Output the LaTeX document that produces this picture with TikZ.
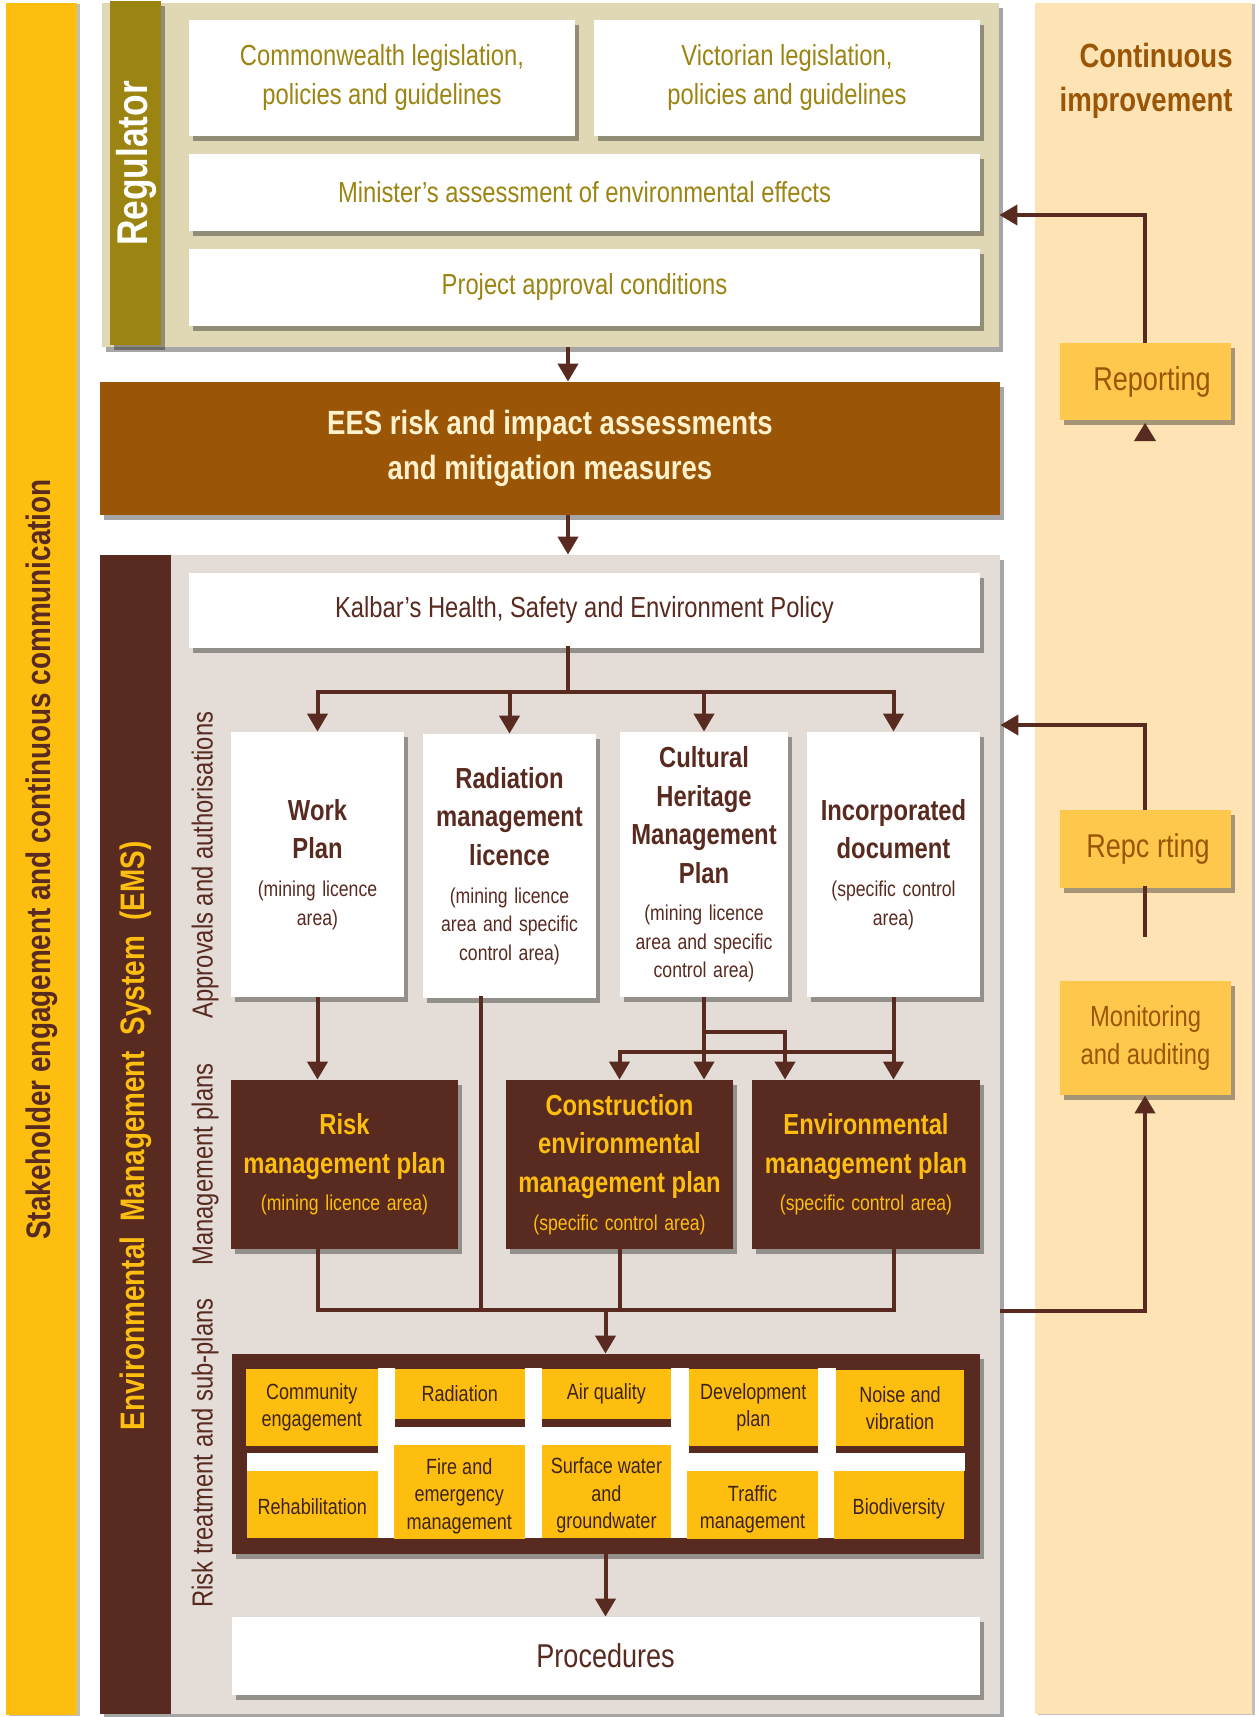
\documentclass[tikz,border=0pt]{standalone}
\usepackage{fontspec}
\setmainfont{Liberation Sans}[FakeStretch=0.82]
\usetikzlibrary{shadows,arrows.meta}
\definecolor{yel}{RGB}{253,190,16}
\definecolor{dbr}{RGB}{88,42,32}
\definecolor{olv}{RGB}{156,132,18}
\definecolor{beige}{RGB}{224,216,181}
\definecolor{eesc}{RGB}{154,86,6}
\definecolor{cream}{RGB}{255,241,204}
\definecolor{emsbg}{RGB}{227,220,215}
\definecolor{peach}{RGB}{254,228,180}
\definecolor{repc}{RGB}{254,200,76}
\definecolor{celltxt}{RGB}{62,36,22}
\newcommand\fsz[2]{\fontsize{#1}{#2}\selectfont}
\newcommand\ttl{\bfseries\fsz{14.5}{19.2}}
\newcommand\sbt{\par\vspace{4.6pt}\normalfont\fsz{10.75}{14.25}}
\newcommand\dn[1]{\raisebox{-2.2pt}[\height][\depth]{\begin{tabular}{@{}c@{}}#1\end{tabular}}}
\tikzset{
  bx/.style n args={4}{at={({(#1+#3)/2},{(#2+#4)/2})}, anchor=center, inner sep=0pt,
     minimum width={(#3-#1)*0.5pt}, minimum height={(#4-#2)*0.5pt}},
  sh/.style={drop shadow={shadow xshift=2pt, shadow yshift=-2.5pt, opacity=0.35, fill=black}},
  lsh/.style={drop shadow={shadow xshift=1.5pt, shadow yshift=-0.5pt, opacity=0.25, fill=black}},
  wbox/.style={fill=white, sh, align=center},
  olvtext/.style={font=\fsz{14.5}{19.5}, text=olv},
  dbox/.style={fill=dbr, sh, align=center, text=yel, text width=108pt},
  apbox/.style={wbox, text=dbr, text width=80pt},
  cell/.style={fill=yel, align=center, font=\fsz{11}{13.7}, text=celltxt},
  rbox/.style={fill=repc, sh, align=center, text=eesc},
  vlab/.style={rotate=90, inner sep=0pt},
  line/.style={draw=dbr, line width=2pt, line cap=rect},
  arr/.style={draw=dbr, line width=2pt, -{Triangle[width=10pt,length=9pt]}},
}
\begin{document}
\begin{tikzpicture}[x=0.5pt,y=-0.5pt]
\useasboundingbox (0,0) rectangle (1258,1717);
\fill[white] (0,0) rectangle (1258,1717);

% side panels
\node[bx={6}{3}{77}{1715}, fill=yel, lsh] (stake) {};
\node[vlab, font=\bfseries\fsz{17}{20}, text=dbr] (stakelab) at (42,859.5) {Stakeholder engagement and continuous communication};
\node[bx={1035}{3}{1252}{1714}, fill=peach, lsh] (ci) {};
\node[anchor=east, align=right, inner sep=0pt, font=\bfseries\fsz{16.8}{22}, text=eesc] (cilab) at (1233,81) {Continuous\\improvement};

% regulator
\node[bx={102}{3}{999}{347}, fill=beige, sh] (reg) {};
\node[bx={110}{1}{161}{345}, fill=olv, sh] (regbar) {};
\node[vlab, font=\bfseries\fsz{21.5}{24}, text=white] (reglab) at (136,163.5) {Regulator};
\node[wbox, olvtext, bx={189}{20}{575}{136}] (cw) {Commonwealth legislation,\\policies and guidelines};
\node[wbox, olvtext, bx={594}{20}{980}{136}] (vic) {Victorian legislation,\\policies and guidelines};
\node[wbox, olvtext, bx={189}{154}{980}{231}] (min) {Minister's assessment of environmental effects};
\node[wbox, olvtext, bx={189}{249}{980}{326}] (proj) {Project approval conditions};

% EES
\node[bx={100}{382}{1000}{514.6}, fill=eesc, sh, align=center, font=\bfseries\fsz{16.8}{22.5}, text=cream] (ees) {EES risk and impact assessments\\and mitigation measures};

% EMS
\node[bx={100}{555}{1000}{1714}, fill=emsbg, sh] (ems) {};
\node[bx={100}{555}{171}{1714}, fill=dbr] (emsbar) {};
\node[vlab, font=\bfseries\fsz{17}{20}, text=yel] (emslab) at (136,1136) {Environmental\ \ Management\ \ System\ \ (EMS)};
\node[vlab, font=\fsz{14.5}{17}, text=dbr] (lab1) at (205,865) {Approvals and authorisations};
\node[vlab, font=\fsz{14.5}{17}, text=dbr] (lab2) at (205,1164.5) {Management plans};
\node[vlab, font=\fsz{14.5}{17}, text=dbr] (lab3) at (205,1453) {Risk treatment and sub-plans};

\node[wbox, font=\fsz{14.5}{19}, text=dbr, bx={189}{572.6}{980}{648}] (kal) {Kalbar's Health, Safety and Environment Policy};

\node[apbox, bx={231}{732}{404}{997}] (work) {\ttl Work\\Plan\sbt (mining licence\\area)\par};
\node[apbox, bx={423}{734}{596}{998}] (rad) {\ttl Radiation\\management\\licence\sbt (mining licence\\area and specific\\control area)\par};
\node[apbox, bx={620}{732}{788}{997}] (cul) {\ttl Cultural\\Heritage\\Management\\Plan\sbt (mining licence\\area and specific\\control area)\par};
\node[apbox, bx={807}{732}{980}{997}] (inc) {\ttl Incorporated\\document\sbt (specific control\\area)\par};

\node[dbox, bx={231}{1080}{458}{1249}] (risk) {\ttl Risk\\management plan\sbt (mining licence area)\par};
\node[dbox, bx={506}{1080}{733}{1249}] (cons) {\ttl Construction\\environmental\\management plan\sbt (specific control area)\par};
\node[dbox, bx={752}{1080}{980}{1249}] (env) {\ttl Environmental\\management plan\sbt (specific control area)\par};

% sub-plans
\node[bx={231.6}{1354}{979.6}{1554}, fill=dbr, sh] (sub) {};
\fill[white] (377.6,1368) rectangle (395,1538);
\fill[white] (524.5,1368) rectangle (541.8,1538);
\fill[white] (671,1368) rectangle (688.8,1538);
\fill[white] (818,1368) rectangle (836,1538);
\fill[white] (247,1452.7) rectangle (377.6,1471);
\fill[white] (395,1426.7) rectangle (671,1445);
\fill[white] (688.8,1452.7) rectangle (965,1471);
\node[cell, bx={246}{1369}{377.6}{1445.7}] (c1) {Community\\engagement};
\node[cell, bx={395}{1369}{524.5}{1418.7}] (c2) {Radiation};
\node[cell, bx={541.8}{1369}{671}{1418.7}] (c3) {Air quality};
\node[cell, bx={688.8}{1369}{817.9}{1445.7}] (c4) {Development\\plan};
\node[cell, bx={836}{1370}{964}{1445.7}] (c5) {Noise and\\vibration};
\node[cell, bx={247}{1471}{377.6}{1537.7}] (c6) {\dn{Rehabilitation}};
\node[cell, bx={394}{1445}{524.5}{1539}] (c7) {\dn{Fire and\\emergency\\management}};
\node[cell, bx={541.8}{1445}{671}{1537.7}] (c8) {\dn{Surface water\\and\\groundwater}};
\node[cell, bx={687}{1471}{818}{1539}] (c9) {\dn{Traffic\\management}};
\node[cell, bx={833.7}{1471}{964}{1539}] (c10) {\dn{Biodiversity}};

\node[wbox, font=\fsz{16.5}{20}, text=dbr, bx={231.6}{1617}{979.6}{1695}] (proc) {Procedures};

% right column boxes
\node[rbox, font=\fsz{16.5}{20}, bx={1060}{343}{1231}{420}] (rep1) {\hspace*{6.5pt}Reporting};
\node[rbox, font=\fsz{16.5}{20}, bx={1060}{810}{1231}{888}] (rep2) {\hspace*{2.5pt}Repc rting};
\node[rbox, font=\fsz{14.5}{19}, bx={1060}{981}{1231}{1095}] (mon) {Monitoring\\and auditing};

% connectors
\coordinate (cx) at (568,0);
\draw[arr] (reg.south -| cx) -- (ees.north -| cx);
\draw[arr] (ees.south -| cx) -- (ems.north -| cx);
\coordinate (b1) at (568,692);
\draw[line] (kal.south -| cx) -- (b1);
\draw[line] (work.north |- b1) -- (inc.north |- b1);
\foreach \n in {work,rad,cul,inc} \draw[arr] (\n.north |- b1) -- (\n.north);

\draw[arr] (work.south) -- (work.south |- risk.north);
\coordinate (radx) at (481,0);
\coordinate (b2) at (605.5,1310);
\draw[line] (rad.south -| radx) -- (radx |- b2);
\coordinate (j1) at (785,1032);
\coordinate (j2) at (0,1052);
\draw[arr] (cul.south) -- (cul.south |- cons.north);
\draw[line] (cul.south |- j1) -- (j1);
\draw[arr] (j1) -- (j1 |- env.north);
\draw[arr] (inc.south) -- (inc.south |- env.north);
\draw[line] (inc.south |- j2) -- (cons.north |- j2);
\draw[arr] (cons.north |- j2) -- (cons.north);

\draw[line] (risk.south -| work.south) -- (work.south |- b2) -- (inc.south |- b2);
\draw[line] (cons.south) -- (cons.south |- b2);
\draw[line] (env.south -| inc.south) -- (inc.south |- b2);
\draw[arr] (b2) -- (b2 |- sub.north);
\draw[arr] (sub.south -| b2) -- (proc.north -| b2);

\coordinate (r1) at (1145,215);
\draw[arr] (rep1.north -| r1) -- (r1) -- (reg.east |- r1);
\fill[dbr] (1145,423) -- (1156,441) -- (1134,441) -- cycle;
\coordinate (r2) at (1145,725);
\draw[arr] (rep2.north -| r2) -- (r2) -- (ems.east |- r2);
\coordinate (r2b) at (1145,935);
\draw[line] (rep2.south -| r2b) -- (r2b);
\coordinate (r3) at (1145,1311);
\draw[arr] (ems.east |- r3) -- (r3) -- (mon.south -| r3);
\end{tikzpicture}
\end{document}
